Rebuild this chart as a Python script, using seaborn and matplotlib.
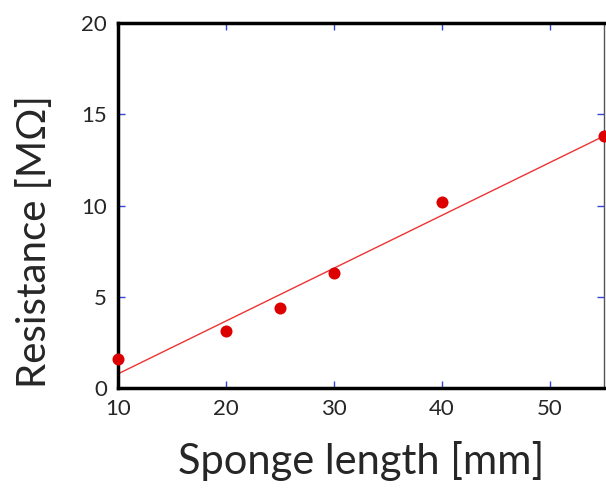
import matplotlib
matplotlib.use("Agg")
import matplotlib.pyplot as plt
import seaborn as sns
import pandas as pd

sponge_length = [10, 20, 25, 30, 40, 55]
resistance = [1.6, 3.1, 4.4, 6.3, 10.2, 13.8]

df = pd.DataFrame({"length": sponge_length, "resistance": resistance})

sns.set_style("white")
plt.rcParams["font.family"] = ["Lato", "DejaVu Sans"]

fig = plt.figure(figsize=(6.06, 4.88), dpi=100)
ax = fig.add_axes([118 / 606, 1 - 388 / 488, (604 - 118) / 606, (388 - 23) / 488])

sns.regplot(data=df, x="length", y="resistance", ci=None, ax=ax,
            scatter_kws={"s": 75, "color": "#dd0000", "alpha": 1,
                         "clip_on": False, "zorder": 3, "linewidths": 0},
            line_kws={"color": "#ee3333", "lw": 1.0})

ax.set_xlim(10, 55)
ax.set_ylim(0, 20)
ax.set_xticks([10, 20, 30, 40, 50])
ax.set_yticks([0, 5, 10, 15, 20])
ax.tick_params(direction="in", length=5, width=1, color="#3344dd",
               bottom=True, left=True, top=True, right=True,
               labelsize=16, pad=8)

for side in ["left", "top", "bottom"]:
    ax.spines[side].set_linewidth(2.5)
    ax.spines[side].set_color("black")
ax.spines["right"].set_linewidth(1)
ax.spines["right"].set_color("#555555")

ax.set_xlabel("Sponge length [mm]", fontsize=30, labelpad=16)
ax.set_ylabel("Resistance [M\u03a9]", fontsize=29, labelpad=20)
ax.yaxis.label.set_y(0.40)

plt.savefig("out.png", dpi=100)
plt.close()
